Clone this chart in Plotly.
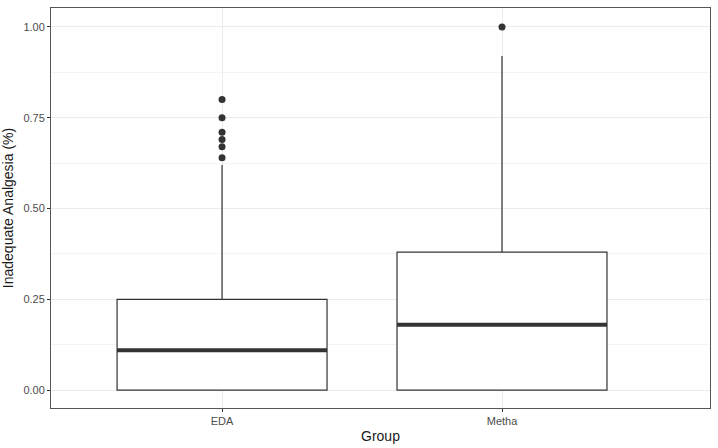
import plotly.graph_objects as go

groups = ["EDA", "Metha"]
q1 = [0.0, 0.0]
median = [0.11, 0.18]
q3 = [0.25, 0.38]
lower_fence = [0.0, 0.0]
upper_fence = [0.62, 0.92]
outliers_eda = [0.64, 0.67, 0.69, 0.71, 0.75, 0.80]
outliers_metha = [1.00]
y_ticks = [0.0, 0.25, 0.5, 0.75, 1.0]

pos = [1, 2]
box_w = 0.75
ink = "#333333"

fig = go.Figure()
fig.add_trace(go.Box(
    x=pos, q1=q1, median=median, q3=q3,
    lowerfence=lower_fence, upperfence=upper_fence,
    width=box_w, boxpoints=False, whiskerwidth=0,
    fillcolor="white", line=dict(color=ink, width=1.2),
    showlegend=False, hoverinfo="skip",
))
# thick median lines (ggplot fatten)
for p, m in zip(pos, median):
    fig.add_trace(go.Scatter(
        x=[p - box_w / 2, p + box_w / 2], y=[m, m], mode="lines",
        line=dict(color=ink, width=4), showlegend=False, hoverinfo="skip",
    ))
fig.add_trace(go.Scatter(
    x=[pos[0]] * len(outliers_eda), y=outliers_eda, mode="markers",
    marker=dict(color=ink, size=7), showlegend=False,
))
fig.add_trace(go.Scatter(
    x=[pos[1]] * len(outliers_metha), y=outliers_metha, mode="markers",
    marker=dict(color=ink, size=7), showlegend=False,
))

fig.update_layout(
    width=718, height=448,
    margin=dict(l=51, r=7, t=7, b=39),
    paper_bgcolor="white", plot_bgcolor="white",
    font=dict(family="Liberation Sans, Arial, sans-serif"),
    xaxis=dict(
        range=[0.389, 2.743], tickvals=pos, ticktext=groups,
        showgrid=True, gridcolor="#EBEBEB", gridwidth=1,
        zeroline=False, showline=True, mirror=True,
        linecolor="#555555", linewidth=1,
        ticks="outside", ticklen=3, tickcolor=ink,
        tickfont=dict(size=11, color="#4D4D4D"),
        title=dict(text="Group", font=dict(size=14, color="#1a1a1a"), standoff=4),
    ),
    yaxis=dict(
        range=[-0.049, 1.052], tickvals=y_ticks, tickformat=".2f",
        showgrid=True, gridcolor="#EBEBEB", gridwidth=1,
        minor=dict(tickvals=[0.125, 0.375, 0.625, 0.875], showgrid=True,
                   gridcolor="#F4F4F4", gridwidth=1, ticks=""),
        zeroline=False, showline=True, mirror=True,
        linecolor="#555555", linewidth=1,
        ticks="outside", ticklen=3, tickcolor=ink,
        tickfont=dict(size=11, color="#4D4D4D"),
        title=dict(text="Inadequate Analgesia (%)", font=dict(size=14, color="#1a1a1a"), standoff=6),
    ),
)

fig.write_html("out.html")
